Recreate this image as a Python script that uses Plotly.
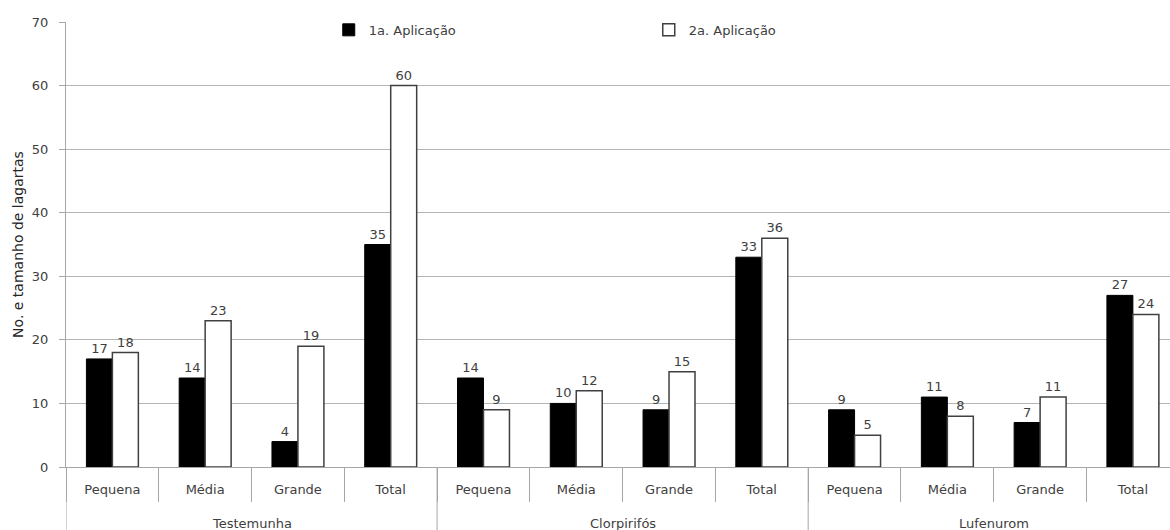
import plotly.graph_objects as go

groups = ["Testemunha"] * 4 + ["Clorpirifós"] * 4 + ["Lufenurom"] * 4
sizes = ["Pequena", "Média", "Grande", "Total"] * 3
app1 = [17, 14, 4, 35, 14, 10, 9, 33, 9, 11, 7, 27]
app2 = [18, 23, 19, 60, 9, 12, 15, 36, 5, 8, 11, 24]

font_family = "DejaVu Sans"
txt_color = "#404040"
axis_gray = "#a6a6a6"

# one unique category per (group, size) pair; only the size is shown as tick text
keys = [f"{g} · {s}" for g, s in zip(groups, sizes)]

fig = go.Figure()
fig.add_trace(go.Bar(
    x=keys, y=app1, name="1a. Aplicação",
    marker=dict(color="#000000", line=dict(color="#000000", width=1)),
    text=app1, textposition="outside", cliponaxis=False,
    textfont=dict(size=13, color=txt_color, family=font_family),
))
fig.add_trace(go.Bar(
    x=keys, y=app2, name="2a. Aplicação",
    marker=dict(color="#ffffff", line=dict(color="#404040", width=1.5)),
    text=app2, textposition="outside", cliponaxis=False,
    textfont=dict(size=13, color=txt_color, family=font_family),
))

# outer group labels and the dividers between groups
group_names = list(dict.fromkeys(groups))
bottom = -63 / 445
for gi, g in enumerate(group_names):
    idx = [i for i, name in enumerate(groups) if name == g]
    center = (idx[0] + idx[-1]) / 2
    fig.add_annotation(
        x=center, y=-0.126, xref="x", yref="paper", text=g, showarrow=False,
        xanchor="center", yanchor="middle",
        font=dict(size=13, color=txt_color, family=font_family),
    )
    fig.add_shape(
        type="line", xref="x", yref="paper",
        x0=idx[0] - 0.5, x1=idx[0] - 0.5, y0=0, y1=bottom,
        line=dict(color=axis_gray, width=1),
    )

fig.update_layout(
    width=1170, height=530,
    margin=dict(l=66, r=0, t=22, b=63),
    paper_bgcolor="white", plot_bgcolor="white",
    font=dict(family=font_family, size=13, color=txt_color),
    barmode="group", bargap=0.44, bargroupgap=0,
    showlegend=True,
    legend=dict(
        orientation="h", x=0.238, y=1.016, xanchor="left", yanchor="top",
        bgcolor="rgba(0,0,0,0)", entrywidth=275, entrywidthmode="pixels",
        font=dict(size=13, color=txt_color, family=font_family),
        itemclick=False,
    ),
)

fig.update_xaxes(
    type="category", range=[-0.5, 11.4],
    tickvals=keys, ticktext=sizes,
    showline=True, linecolor=axis_gray, linewidth=1,
    ticks="outside", ticklen=34, tickcolor=axis_gray, tickson="boundaries",
    ticklabelstandoff=10,
    showgrid=False, tickfont=dict(size=13, color=txt_color),
)
fig.update_yaxes(
    range=[0, 70], dtick=10, tick0=0,
    showline=True, linecolor=axis_gray, linewidth=1,
    ticks="outside", ticklen=6, tickcolor=axis_gray,
    ticklabelstandoff=8,
    showgrid=True, gridcolor="#b4b4b4", gridwidth=1,
    zeroline=False,
    tickfont=dict(size=13, color=txt_color),
    title=dict(text="No. e tamanho de lagartas",
               font=dict(size=14, color="#262626"), standoff=4),
)

fig.write_html("out.html")
